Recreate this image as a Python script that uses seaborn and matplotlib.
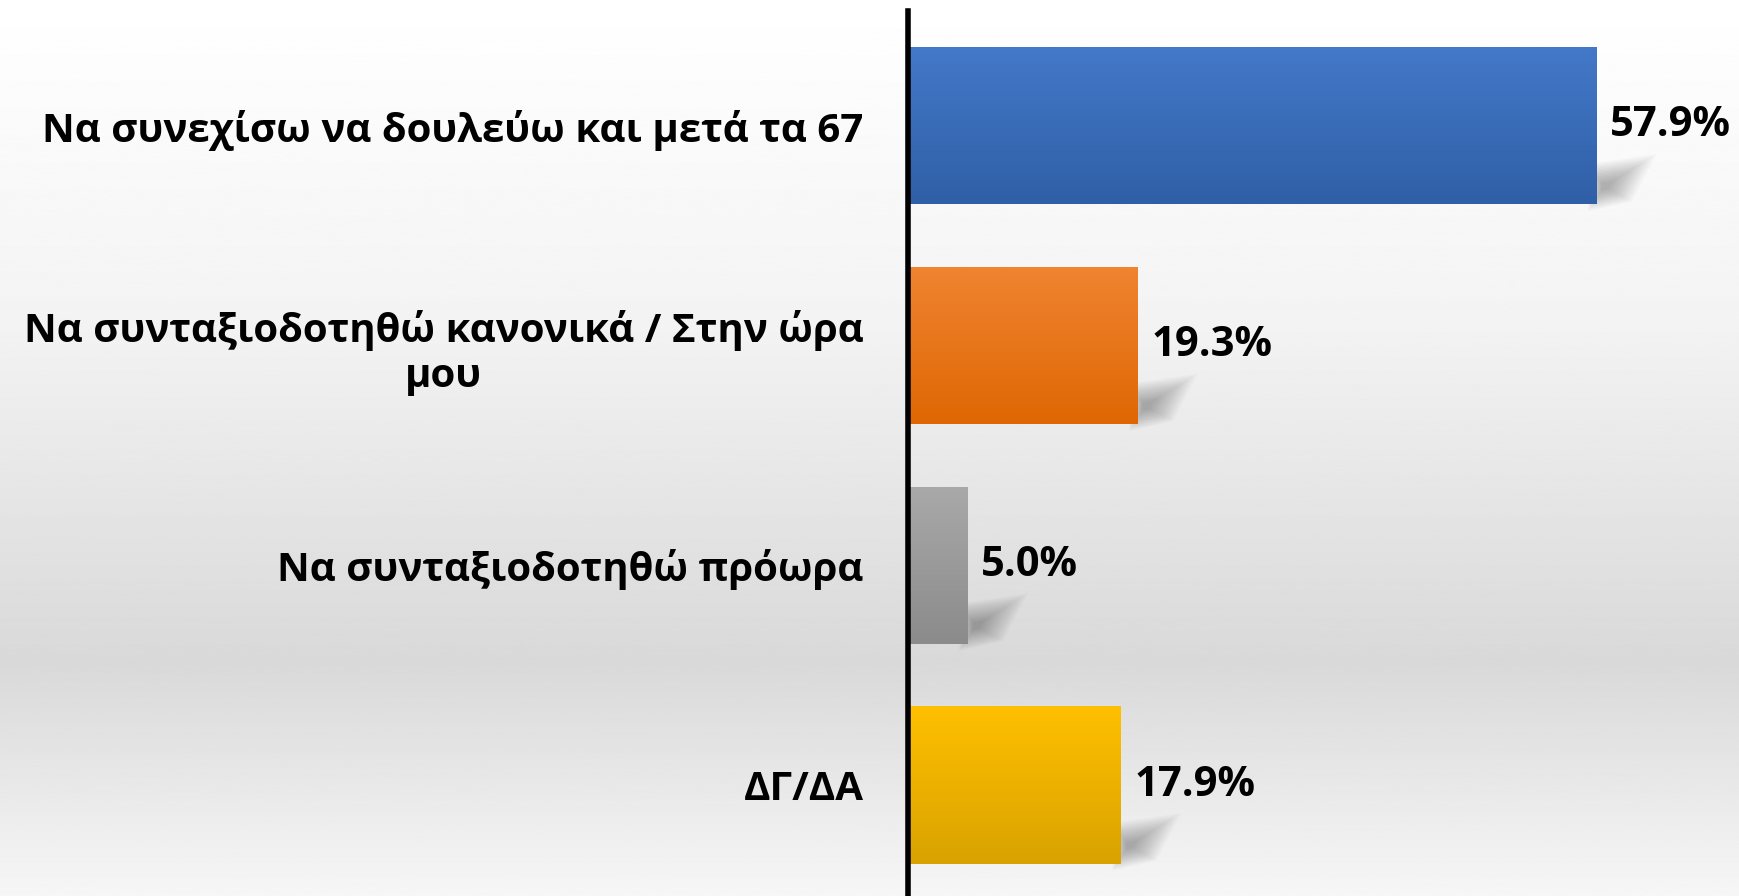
import numpy as np
import matplotlib.pyplot as plt
from matplotlib.colors import LinearSegmentedColormap
from matplotlib.patches import Polygon
import seaborn as sns

# data
categories = [
    "Να συνεχίσω να δουλεύω και μετά τα 67",
    "Να συνταξιοδοτηθώ κανονικά / Στην ώρα\nμου",
    "Να συνταξιοδοτηθώ πρόωρα",
    "ΔΓ/ΔΑ",
]
values = [57.9, 19.3, 5.0, 17.9]
value_labels = ["57.9%", "19.3%", "5.0%", "17.9%"]
top_colors = ["#4479c9", "#f08431", "#a9a9a9", "#ffc000"]
bottom_colors = ["#2f5fa6", "#df6703", "#8b8b8b", "#d9a200"]

sns.set_style("white")
plt.rcParams["font.family"] = ["Open Sans", "DejaVu Sans"]
plt.rcParams["font.weight"] = "bold"
plt.rcParams["text.color"] = "black"
plt.rcParams["ytick.color"] = "black"

W, H = 1740, 896
fig = plt.figure(figsize=(W / 100, H / 100), dpi=100)

# background: light grey vertical gradient
bg = fig.add_axes([0, 0, 1, 1], zorder=0)
yy = np.linspace(0, 1, 400)
shade = np.interp(yy, [0, 0.35, 0.74, 1.0], [1.0, 0.955, 0.85, 0.965])
bg.imshow(shade.reshape(-1, 1), cmap="gray", vmin=0, vmax=1, aspect="auto",
          extent=(0, 1, 1, 0))
bg.set_axis_off()

x0 = 908 / W
ax = fig.add_axes([x0, 0, 1 - x0, 885 / H], zorder=1)
ax.patch.set_alpha(0)

sns.barplot(x=values, y=categories, hue=categories, palette=top_colors,
            width=0.715, orient="h", saturation=1, legend=False, ax=ax, zorder=3)

xlim = (0, 70)
ylim = (3.505, -0.523)
px_x = (W - 908) / (xlim[1] - xlim[0])
px_y = 885 / (ylim[0] - ylim[1])

# gradient fill + soft shadow for each bar
for p, c_top, c_bot in zip(ax.patches, top_colors, bottom_colors):
    x, y, w, h = p.get_x(), p.get_y(), p.get_width(), p.get_height()
    cmap = LinearSegmentedColormap.from_list("g", [c_top, c_bot])
    im = ax.imshow(np.linspace(0, 1, 256).reshape(-1, 1), cmap=cmap, aspect="auto",
                   extent=(x, x + w, y + h, y), zorder=4)
    im.set_clip_path(p)
    p.set_edgecolor("none")

    xr, yb = x + w, y + h
    pts = np.array([(-5, 2), (-5, -36), (50, -44), (30, -6)], dtype=float)
    cen = np.array([8.0, -18.0])
    for k in range(16):
        s = 1.25 - k * 0.07
        q = cen + (pts - cen) * s
        poly = [(xr + qx / px_x, yb + qy / px_y) for qx, qy in q]
        ax.add_patch(Polygon(poly, closed=True, facecolor="black", alpha=0.02,
                             edgecolor="none", zorder=2))

for cont, lab in zip(ax.containers, value_labels):
    ax.bar_label(cont, labels=[lab], padding=10, fontsize=30, fontweight="bold",
                 color="black")

ax.set_xlim(*xlim)
ax.set_ylim(*ylim)
ax.set_xticks([])
ax.set_xlabel("")
ax.set_ylabel("")
ax.tick_params(axis="y", length=0, pad=32, labelsize=29, labelcolor="black")
for t in ax.get_yticklabels():
    t.set_fontweight("bold")
    t.set_multialignment("center")

for s in ["top", "right", "bottom"]:
    ax.spines[s].set_visible(False)
ax.spines["left"].set_color("black")
ax.spines["left"].set_linewidth(4)
ax.spines["left"].set_zorder(6)

fig.savefig("out.png", dpi=100)
